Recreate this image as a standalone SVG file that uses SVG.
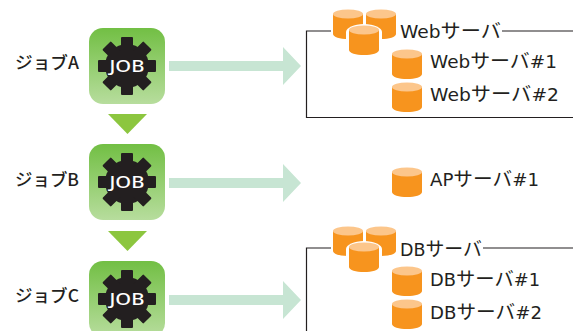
<svg xmlns="http://www.w3.org/2000/svg" width="573" height="331" viewBox="0 0 573 331">
<style>
text{font-family:"DejaVu Sans","Noto Sans CJK JP",sans-serif;fill:#231f20}
.l{font-size:17px;font-family:"Noto Sans CJK JP",sans-serif;font-weight:500}
.s{font-size:18px}
.k{font-size:19.5px;font-family:"Noto Sans CJK JP",sans-serif}
.j{font-size:15.5px;fill:#fff;font-family:"Noto Sans","Liberation Sans",sans-serif;font-weight:500}
.frame{fill:none;stroke:#231f20;stroke-width:1.2}
</style>
<defs>
<linearGradient id="g" x1="0" y1="0" x2="0" y2="1"><stop offset="0" stop-color="#72bf44"/><stop offset="1" stop-color="#b7dd9d"/></linearGradient>
<g id="job">
<rect x="0" y="0" width="76" height="76" rx="14" fill="url(#g)"/>
<g fill="#231f20">
<circle cx="38" cy="38" r="22"/>
<rect x="32" y="9" width="12" height="58" rx="1"/>
<rect x="32" y="9" width="12" height="58" rx="1" transform="rotate(45 38 38)"/>
<rect x="32" y="9" width="12" height="58" rx="1" transform="rotate(90 38 38)"/>
<rect x="32" y="9" width="12" height="58" rx="1" transform="rotate(135 38 38)"/>
</g>
<text class="j" x="20.500" y="44" textLength="35" lengthAdjust="spacingAndGlyphs">JOB</text>
</g>
<g id="arrow"><path fill="#c7e5d3" d="M0 0h114v-14l18 19-18 19v-14H0z"/></g>
<g id="cyl">
<path fill="#f7941e" d="M0 5v20c0 3 7 5 15 5s15-2 15-5V5z"/>
<ellipse cx="15" cy="5" rx="15" ry="4.500" fill="#fcc68b"/>
</g>
<path id="tri" fill="#8cc63f" d="M0 0h39l-19.500 20z"/>
</defs>
<g id="connectors">
<use href="#arrow" x="169" y="61"/>
<use href="#arrow" x="169" y="178"/>
<use href="#arrow" x="169" y="295"/>
<use href="#tri" x="108" y="114"/>
<use href="#tri" x="108" y="231"/>
<path class="frame" d="M331 31H306.500V117.500H573M502 31H573"/>
<path class="frame" d="M331 248H306.500V331M483 248H573"/>
</g>
<g id="job-a"><text class="l" x="15" y="69" textLength="64" lengthAdjust="spacingAndGlyphs">ジョブA</text><use href="#job" x="89" y="28"/></g>
<g id="job-b"><text class="l" x="15" y="186" textLength="64" lengthAdjust="spacingAndGlyphs">ジョブB</text><use href="#job" x="89" y="144"/></g>
<g id="job-c"><text class="l" x="15" y="302" textLength="64" lengthAdjust="spacingAndGlyphs">ジョブC</text><use href="#job" x="89" y="261"/></g>
<g id="web-group">
<use href="#cyl" x="333" y="9"/><use href="#cyl" x="366" y="9"/>
<path d="M346 32c0-4 8-8 18-8s18 4 18 8v20c0 2-8 4-18 4s-18-2-18-4z" fill="#fff"/>
<use href="#cyl" x="349" y="25"/>
<text class="s" x="400" y="38" textLength="101" lengthAdjust="spacingAndGlyphs">Web<tspan class="k">サーバ</tspan></text>
</g>
<g id="web-1"><use href="#cyl" x="392" y="49"/><text class="s" x="430" y="68" textLength="127" lengthAdjust="spacingAndGlyphs">Web<tspan class="k">サーバ</tspan>#1</text></g>
<g id="web-2"><use href="#cyl" x="392" y="82"/><text class="s" x="430" y="101" textLength="129" lengthAdjust="spacingAndGlyphs">Web<tspan class="k">サーバ</tspan>#2</text></g>
<g id="ap-1"><use href="#cyl" x="392" y="167"/><text class="s" x="430" y="186" textLength="109" lengthAdjust="spacingAndGlyphs">AP<tspan class="k">サーバ</tspan>#1</text></g>
<g id="db-group">
<use href="#cyl" x="333" y="226"/><use href="#cyl" x="366" y="226"/>
<path d="M346 249c0-4 8-8 18-8s18 4 18 8v20c0 2-8 4-18 4s-18-2-18-4z" fill="#fff"/>
<use href="#cyl" x="349" y="242"/>
<text class="s" x="400" y="256" textLength="82" lengthAdjust="spacingAndGlyphs">DB<tspan class="k">サーバ</tspan></text>
</g>
<g id="db-1"><use href="#cyl" x="392" y="266"/><text class="s" x="430" y="286" textLength="110" lengthAdjust="spacingAndGlyphs">DB<tspan class="k">サーバ</tspan>#1</text></g>
<g id="db-2"><use href="#cyl" x="392" y="299"/><text class="s" x="430" y="318.500" textLength="112" lengthAdjust="spacingAndGlyphs">DB<tspan class="k">サーバ</tspan>#2</text></g>
</svg>
